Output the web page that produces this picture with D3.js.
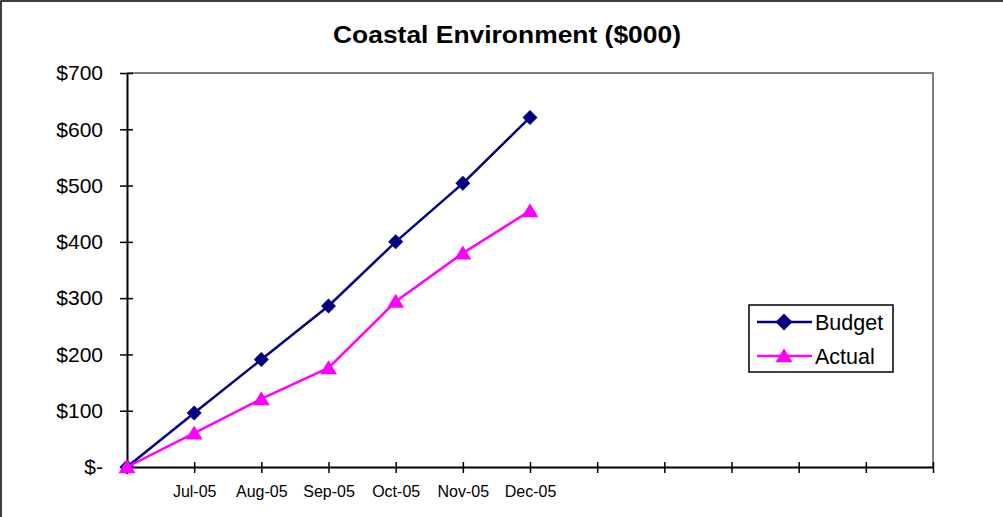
<!DOCTYPE html>
<html>
<head>
<meta charset="utf-8">
<script src="https://cdn.jsdelivr.net/npm/d3@7"></script>
<style>
  html, body { margin: 0; padding: 0; background: #fff; }
  svg { display: block; font-family: 'Liberation Sans', Arial, sans-serif; }
</style>
</head>
<body>
<div id="chart"></div>
<script>
// category slots on the x axis (blank ones are empty in the source sheet)
const xLabels = ['', 'Jul-05', 'Aug-05', 'Sep-05', 'Oct-05', 'Nov-05', 'Dec-05', '', '', '', '', '', ''];
const budget = [0, 96, 191, 286, 400, 504, 621];
const actual = [0, 60, 121, 176, 294, 380, 455];
const yTicks = [0, 100, 200, 300, 400, 500, 600, 700];
const seriesNames = ['Budget', 'Actual'];

const width = 1003;
const height = 517;
const plot = { left: 127, right: 933, top: 73, bottom: 467 };

const colors = { Budget: '#000080', Actual: '#ff00ff' };

const svg = d3.select('#chart')
  .append('svg')
  .attr('width', width)
  .attr('height', height);

// chart area border
svg.append('rect')
  .attr('x', 1)
  .attr('y', 1)
  .attr('width', width + 10)
  .attr('height', height + 10)
  .attr('fill', '#fff')
  .attr('stroke', '#000')
  .attr('stroke-width', 1.5);

svg.append('text')
  .attr('x', 507)
  .attr('y', 43)
  .attr('text-anchor', 'middle')
  .attr('font-size', 24)
  .attr('font-weight', 'bold')
  .attr('textLength', 348)
  .attr('lengthAdjust', 'spacingAndGlyphs')
  .text('Coastal Environment ($000)');

const xScale = d3.scalePoint()
  .domain(d3.range(xLabels.length))
  .range([plot.left, plot.right]);

const yScale = d3.scaleLinear()
  .domain([0, 700])
  .range([plot.bottom, plot.top]);

// plot area frame (top and right in grey)
svg.append('path')
  .attr('d', `M${plot.left},${plot.top}H${plot.right}V${plot.bottom}`)
  .attr('fill', 'none')
  .attr('stroke', '#808080')
  .attr('stroke-width', 2);

const yAxis = svg.append('g')
  .attr('transform', `translate(${plot.left},0)`)
  .call(d3.axisLeft(yScale)
    .tickValues(yTicks)
    .tickSize(7)
    .tickPadding(17)
    .tickSizeOuter(0)
    .tickFormat((d) => (d === 0 ? '$-' : `$${d}`)));
yAxis.select('.domain').attr('stroke', '#000').attr('stroke-width', 2);
yAxis.selectAll('.tick line').attr('x1', 6).attr('stroke-width', 1.5);
yAxis.selectAll('.tick text').attr('font-size', 21).attr('fill', '#000').attr('font-family', null);

const xAxis = svg.append('g')
  .attr('transform', `translate(0,${plot.bottom})`)
  .call(d3.axisBottom(xScale)
    .tickSize(6)
    .tickPadding(13)
    .tickSizeOuter(0)
    .tickFormat((i) => xLabels[i]));
xAxis.select('.domain').attr('stroke', '#000').attr('stroke-width', 2);
xAxis.selectAll('.tick line').attr('y1', -5).attr('stroke-width', 1.5);
xAxis.selectAll('.tick text').attr('font-size', 16).attr('fill', '#000').attr('font-family', null);

const line = d3.line()
  .x((d, i) => xScale(i))
  .y((d) => yScale(d));

const diamond = (s) => `M0,${-s}L${s},0L0,${s}L${-s},0Z`;
const triangle = (w, h) => `M0,${-h * 0.55}L${w / 2},${h * 0.45}L${-w / 2},${h * 0.45}Z`;

function drawSeries(values, name) {
  const g = svg.append('g');
  g.append('path')
    .datum(values)
    .attr('fill', 'none')
    .attr('stroke', colors[name])
    .attr('stroke-width', 2.5)
    .attr('stroke-linejoin', 'round')
    .attr('d', line);
  g.selectAll('path.marker')
    .data(values)
    .join('path')
    .attr('class', 'marker')
    .attr('transform', (d, i) => `translate(${xScale(i)},${yScale(d)})`)
    .attr('fill', colors[name])
    .attr('d', name === 'Budget' ? diamond(7.5) : triangle(17, 14));
}

drawSeries(budget, 'Budget');
drawSeries(actual, 'Actual');

// legend
const legend = svg.append('g').attr('transform', 'translate(749,305)');
legend.append('rect')
  .attr('width', 144)
  .attr('height', 67)
  .attr('fill', '#fff')
  .attr('stroke', '#000')
  .attr('stroke-width', 1.5);

const item = legend.selectAll('g.item')
  .data(seriesNames)
  .join('g')
  .attr('class', 'item')
  .attr('transform', (d, i) => `translate(0,${17 + i * 34})`);

item.append('line')
  .attr('x1', 8)
  .attr('x2', 63)
  .attr('stroke', (d) => colors[d])
  .attr('stroke-width', 2.5);

item.append('path')
  .attr('transform', 'translate(35,0)')
  .attr('fill', (d) => colors[d])
  .attr('d', (d) => (d === 'Budget' ? diamond(8.5) : triangle(17, 14)));

item.append('text')
  .attr('x', 66)
  .attr('dy', '0.36em')
  .attr('font-size', 21.5)
  .text((d) => d);
</script>
</body>
</html>
